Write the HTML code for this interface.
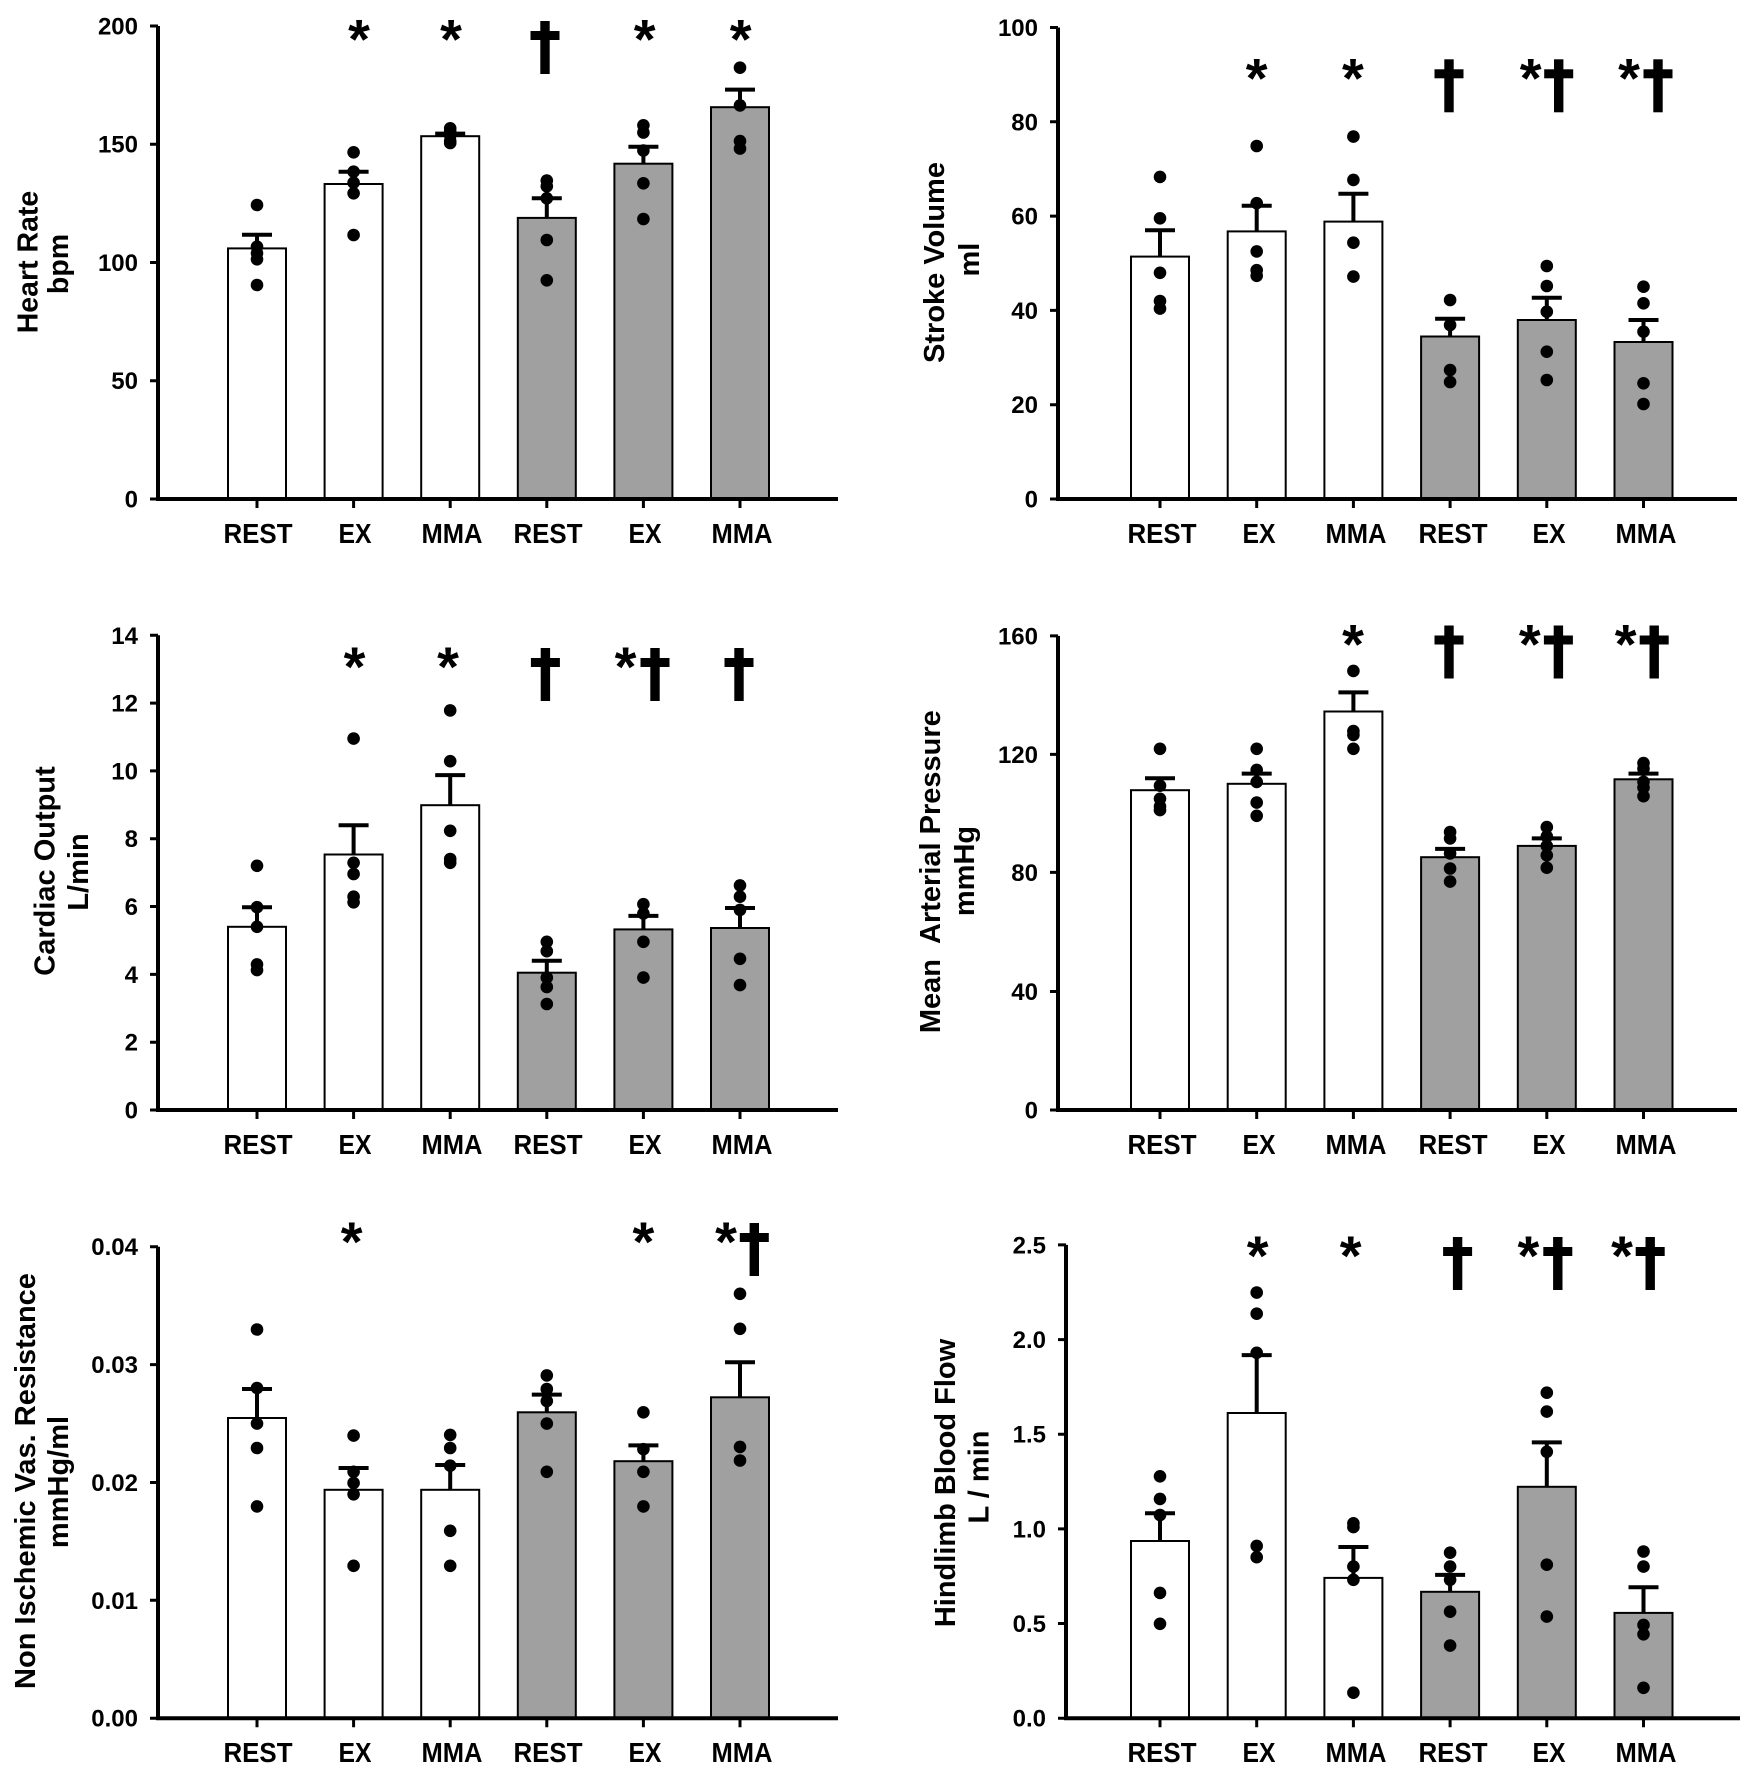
<!DOCTYPE html>
<html><head><meta charset="utf-8"><style>
html,body{margin:0;padding:0;background:#fff;}
svg{display:block;}
text{font-family:"Liberation Sans",Arial,sans-serif;font-weight:bold;fill:#000;}
.tl{font-size:24px;text-anchor:end;}
.xl{font-size:28px;text-anchor:middle;}
.yl{font-size:29px;text-anchor:middle;}
.ast{font-size:56px;text-anchor:middle;}
</style></head><body>
<svg width="1756" height="1769" viewBox="0 0 1756 1769" xmlns="http://www.w3.org/2000/svg">
<rect width="1756" height="1769" fill="#fff"/>

<!-- ================= BARS ================= -->
<g stroke="#000" stroke-width="2">
<!-- P1 -->
<rect x="228" y="248.4" width="58" height="250.6" fill="#fff"/>
<rect x="324.6" y="184" width="58" height="315" fill="#fff"/>
<rect x="421.2" y="136.2" width="58" height="362.8" fill="#fff"/>
<rect x="517.8" y="217.9" width="58" height="281.1" fill="#a0a0a0"/>
<rect x="614.4" y="163.7" width="58" height="335.3" fill="#a0a0a0"/>
<rect x="711" y="107.2" width="58" height="391.8" fill="#a0a0a0"/>
<!-- P2 -->
<rect x="1131" y="256.6" width="58" height="242.4" fill="#fff"/>
<rect x="1227.7" y="231.4" width="58" height="267.6" fill="#fff"/>
<rect x="1324.4" y="221.6" width="58" height="277.4" fill="#fff"/>
<rect x="1421.1" y="336.5" width="58" height="162.5" fill="#a0a0a0"/>
<rect x="1517.8" y="320" width="58" height="179" fill="#a0a0a0"/>
<rect x="1614.5" y="342" width="58" height="157" fill="#a0a0a0"/>
<!-- P3 -->
<rect x="228" y="926.8" width="58" height="183.2" fill="#fff"/>
<rect x="324.6" y="854.5" width="58" height="255.5" fill="#fff"/>
<rect x="421.2" y="805.2" width="58" height="304.8" fill="#fff"/>
<rect x="517.8" y="972.7" width="58" height="137.3" fill="#a0a0a0"/>
<rect x="614.4" y="929.4" width="58" height="180.6" fill="#a0a0a0"/>
<rect x="711" y="928" width="58" height="182" fill="#a0a0a0"/>
<!-- P4 -->
<rect x="1131" y="790.2" width="58" height="319.8" fill="#fff"/>
<rect x="1227.7" y="783.8" width="58" height="326.2" fill="#fff"/>
<rect x="1324.4" y="711.5" width="58" height="398.5" fill="#fff"/>
<rect x="1421.1" y="857.2" width="58" height="252.8" fill="#a0a0a0"/>
<rect x="1517.8" y="845.9" width="58" height="264.1" fill="#a0a0a0"/>
<rect x="1614.5" y="779.3" width="58" height="330.7" fill="#a0a0a0"/>
<!-- P5 -->
<rect x="228" y="1418" width="58" height="300.2" fill="#fff"/>
<rect x="324.6" y="1489.8" width="58" height="228.4" fill="#fff"/>
<rect x="421.2" y="1489.8" width="58" height="228.4" fill="#fff"/>
<rect x="517.8" y="1412.3" width="58" height="305.9" fill="#a0a0a0"/>
<rect x="614.4" y="1461.2" width="58" height="257" fill="#a0a0a0"/>
<rect x="711" y="1397.3" width="58" height="320.9" fill="#a0a0a0"/>
<!-- P6 -->
<rect x="1131" y="1541" width="58" height="177.2" fill="#fff"/>
<rect x="1227.7" y="1413" width="58" height="305.2" fill="#fff"/>
<rect x="1324.4" y="1577.9" width="58" height="140.3" fill="#fff"/>
<rect x="1421.1" y="1591.8" width="58" height="126.4" fill="#a0a0a0"/>
<rect x="1517.8" y="1486.8" width="58" height="231.4" fill="#a0a0a0"/>
<rect x="1614.5" y="1612.9" width="58" height="105.3" fill="#a0a0a0"/>
</g>

<!-- ================= ERROR BARS ================= -->
<g stroke="#000" stroke-width="4" fill="none">
<!-- P1 -->
<path d="M257 248.4V234.8M242 234.8H272"/>
<path d="M353.6 184V171.7M338.6 171.7H368.6"/>
<path d="M450.2 136.2V133.6M435.2 133.6H465.2"/>
<path d="M546.8 217.9V198.3M531.8 198.3H561.8"/>
<path d="M643.4 163.7V146.8M628.4 146.8H658.4"/>
<path d="M740 107.2V89.6M725 89.6H755"/>
<!-- P2 -->
<path d="M1160 256.6V230.3M1145 230.3H1175"/>
<path d="M1256.7 231.4V205.8M1241.7 205.8H1271.7"/>
<path d="M1353.4 221.6V193.8M1338.4 193.8H1368.4"/>
<path d="M1450.1 336.5V318.7M1435.1 318.7H1465.1"/>
<path d="M1546.8 320V297.7M1531.8 297.7H1561.8"/>
<path d="M1643.5 342V320M1628.5 320H1658.5"/>
<!-- P3 -->
<path d="M257 926.8V907.2M242 907.2H272"/>
<path d="M353.6 854.5V825.2M338.6 825.2H368.6"/>
<path d="M450.2 805.2V775.1M435.2 775.1H465.2"/>
<path d="M546.8 972.7V960.7M531.8 960.7H561.8"/>
<path d="M643.4 929.4V915.9M628.4 915.9H658.4"/>
<path d="M740 928V908M725 908H755"/>
<!-- P4 -->
<path d="M1160 790.2V778.2M1145 778.2H1175"/>
<path d="M1256.7 783.8V773.6M1241.7 773.6H1271.7"/>
<path d="M1353.4 711.5V692.4M1338.4 692.4H1368.4"/>
<path d="M1450.1 857.2V848.9M1435.1 848.9H1465.1"/>
<path d="M1546.8 845.9V838.4M1531.8 838.4H1561.8"/>
<path d="M1643.5 779.3V773.6M1628.5 773.6H1658.5"/>
<!-- P5 -->
<path d="M257 1418V1389M242 1389H272"/>
<path d="M353.6 1489.8V1468M338.6 1468H368.6"/>
<path d="M450.2 1489.8V1465M435.2 1465H465.2"/>
<path d="M546.8 1412.3V1394.6M531.8 1394.6H561.8"/>
<path d="M643.4 1461.2V1445.4M628.4 1445.4H658.4"/>
<path d="M740 1397.3V1362.3M725 1362.3H755"/>
<!-- P6 -->
<path d="M1160 1541V1513.2M1145 1513.2H1175"/>
<path d="M1256.7 1413V1355.1M1241.7 1355.1H1271.7"/>
<path d="M1353.4 1577.9V1547M1338.4 1547H1368.4"/>
<path d="M1450.1 1591.8V1574.9M1435.1 1574.9H1465.1"/>
<path d="M1546.8 1486.8V1442.4M1531.8 1442.4H1561.8"/>
<path d="M1643.5 1612.9V1587.3M1628.5 1587.3H1658.5"/>
</g>

<!-- ================= DOTS ================= -->
<g fill="#000">
<!-- P1 -->
<circle cx="257" cy="205" r="6.3"/><circle cx="257" cy="246.7" r="6.3"/><circle cx="257" cy="253.3" r="6.3"/><circle cx="257" cy="259.3" r="6.3"/><circle cx="257" cy="285" r="6.3"/>
<circle cx="353.6" cy="152.3" r="6.3"/><circle cx="353.6" cy="171.7" r="6.3"/><circle cx="353.6" cy="182.7" r="6.3"/><circle cx="353.6" cy="193.3" r="6.3"/><circle cx="353.6" cy="235" r="6.3"/>
<circle cx="450.2" cy="128.3" r="6.3"/><circle cx="450.2" cy="131.7" r="6.3"/><circle cx="450.2" cy="135.5" r="6.3"/><circle cx="450.2" cy="141" r="6.3"/><circle cx="450.2" cy="143" r="6.3"/>
<circle cx="546.8" cy="180.6" r="6.3"/><circle cx="546.8" cy="186.3" r="6.3"/><circle cx="546.8" cy="198.3" r="6.3"/><circle cx="546.8" cy="240" r="6.3"/><circle cx="546.8" cy="280.3" r="6.3"/>
<circle cx="643.4" cy="125.3" r="6.3"/><circle cx="643.4" cy="132.5" r="6.3"/><circle cx="643.4" cy="150.5" r="6.3"/><circle cx="643.4" cy="183.3" r="6.3"/><circle cx="643.4" cy="219" r="6.3"/>
<circle cx="740" cy="67.7" r="6.3"/><circle cx="740" cy="105.4" r="6.3"/><circle cx="740" cy="141.1" r="6.3"/><circle cx="740" cy="148.6" r="6.3"/>
<!-- P2 -->
<circle cx="1160" cy="176.9" r="6.3"/><circle cx="1160" cy="218.3" r="6.3"/><circle cx="1160" cy="272.8" r="6.3"/><circle cx="1160" cy="301" r="6.3"/><circle cx="1160" cy="308.6" r="6.3"/>
<circle cx="1256.7" cy="146" r="6.3"/><circle cx="1256.7" cy="203.2" r="6.3"/><circle cx="1256.7" cy="251.4" r="6.3"/><circle cx="1256.7" cy="270.2" r="6.3"/><circle cx="1256.7" cy="275.8" r="6.3"/>
<circle cx="1353.4" cy="136.6" r="6.3"/><circle cx="1353.4" cy="179.9" r="6.3"/><circle cx="1353.4" cy="242.7" r="6.3"/><circle cx="1353.4" cy="276.6" r="6.3"/>
<circle cx="1450.1" cy="300" r="6.3"/><circle cx="1450.1" cy="325" r="6.3"/><circle cx="1450.1" cy="370" r="6.3"/><circle cx="1450.1" cy="382" r="6.3"/>
<circle cx="1546.8" cy="266" r="6.3"/><circle cx="1546.8" cy="286" r="6.3"/><circle cx="1546.8" cy="311.7" r="6.3"/><circle cx="1546.8" cy="351.7" r="6.3"/><circle cx="1546.8" cy="380" r="6.3"/>
<circle cx="1643.5" cy="286.7" r="6.3"/><circle cx="1643.5" cy="303.3" r="6.3"/><circle cx="1643.5" cy="331.7" r="6.3"/><circle cx="1643.5" cy="383.3" r="6.3"/><circle cx="1643.5" cy="404" r="6.3"/>
<!-- P3 -->
<circle cx="257" cy="865.8" r="6.3"/><circle cx="257" cy="907.2" r="6.3"/><circle cx="257" cy="926.8" r="6.3"/><circle cx="257" cy="964.4" r="6.3"/><circle cx="257" cy="970.1" r="6.3"/>
<circle cx="353.6" cy="738.6" r="6.3"/><circle cx="353.6" cy="862.8" r="6.3"/><circle cx="353.6" cy="874" r="6.3"/><circle cx="353.6" cy="896.7" r="6.3"/><circle cx="353.6" cy="902.3" r="6.3"/>
<circle cx="450.2" cy="710.4" r="6.3"/><circle cx="450.2" cy="761.2" r="6.3"/><circle cx="450.2" cy="830.8" r="6.3"/><circle cx="450.2" cy="859" r="6.3"/><circle cx="450.2" cy="862.8" r="6.3"/>
<circle cx="546.8" cy="941.8" r="6.3"/><circle cx="546.8" cy="951.2" r="6.3"/><circle cx="546.8" cy="977.6" r="6.3"/><circle cx="546.8" cy="987" r="6.3"/><circle cx="546.8" cy="1004" r="6.3"/>
<circle cx="643.4" cy="904.2" r="6.3"/><circle cx="643.4" cy="913.6" r="6.3"/><circle cx="643.4" cy="941.8" r="6.3"/><circle cx="643.4" cy="977.6" r="6.3"/>
<circle cx="740" cy="885.4" r="6.3"/><circle cx="740" cy="896.7" r="6.3"/><circle cx="740" cy="909.9" r="6.3"/><circle cx="740" cy="958.8" r="6.3"/><circle cx="740" cy="985.1" r="6.3"/>
<!-- P4 -->
<circle cx="1160" cy="748.8" r="6.3"/><circle cx="1160" cy="785.7" r="6.3"/><circle cx="1160" cy="798.8" r="6.3"/><circle cx="1160" cy="806.4" r="6.3"/><circle cx="1160" cy="810.1" r="6.3"/>
<circle cx="1256.7" cy="748.8" r="6.3"/><circle cx="1256.7" cy="769.9" r="6.3"/><circle cx="1256.7" cy="781.9" r="6.3"/><circle cx="1256.7" cy="802.6" r="6.3"/><circle cx="1256.7" cy="815.8" r="6.3"/>
<circle cx="1353.4" cy="670.9" r="6.3"/><circle cx="1353.4" cy="731.1" r="6.3"/><circle cx="1353.4" cy="734.9" r="6.3"/><circle cx="1353.4" cy="748.8" r="6.3"/>
<circle cx="1450.1" cy="832" r="6.3"/><circle cx="1450.1" cy="838.4" r="6.3"/><circle cx="1450.1" cy="853.4" r="6.3"/><circle cx="1450.1" cy="868.5" r="6.3"/><circle cx="1450.1" cy="881.6" r="6.3"/>
<circle cx="1546.8" cy="827.1" r="6.3"/><circle cx="1546.8" cy="836.5" r="6.3"/><circle cx="1546.8" cy="845.9" r="6.3"/><circle cx="1546.8" cy="855.3" r="6.3"/><circle cx="1546.8" cy="867.7" r="6.3"/>
<circle cx="1643.5" cy="763.1" r="6.3"/><circle cx="1643.5" cy="768.7" r="6.3"/><circle cx="1643.5" cy="781.9" r="6.3"/><circle cx="1643.5" cy="787.6" r="6.3"/><circle cx="1643.5" cy="796.2" r="6.3"/>
<!-- P5 -->
<circle cx="257" cy="1329.5" r="6.3"/><circle cx="257" cy="1388" r="6.3"/><circle cx="257" cy="1423.6" r="6.3"/><circle cx="257" cy="1448" r="6.3"/><circle cx="257" cy="1506.4" r="6.3"/>
<circle cx="353.6" cy="1435.6" r="6.3"/><circle cx="353.6" cy="1471.8" r="6.3"/><circle cx="353.6" cy="1483" r="6.3"/><circle cx="353.6" cy="1494.3" r="6.3"/><circle cx="353.6" cy="1565.8" r="6.3"/>
<circle cx="450.2" cy="1434.9" r="6.3"/><circle cx="450.2" cy="1448" r="6.3"/><circle cx="450.2" cy="1465.7" r="6.3"/><circle cx="450.2" cy="1530.8" r="6.3"/><circle cx="450.2" cy="1565.8" r="6.3"/>
<circle cx="546.8" cy="1375.4" r="6.3"/><circle cx="546.8" cy="1389" r="6.3"/><circle cx="546.8" cy="1401" r="6.3"/><circle cx="546.8" cy="1423.6" r="6.3"/><circle cx="546.8" cy="1471.8" r="6.3"/>
<circle cx="643.4" cy="1412.3" r="6.3"/><circle cx="643.4" cy="1449.2" r="6.3"/><circle cx="643.4" cy="1471.8" r="6.3"/><circle cx="643.4" cy="1506.4" r="6.3"/>
<circle cx="740" cy="1293.8" r="6.3"/><circle cx="740" cy="1328.8" r="6.3"/><circle cx="740" cy="1446.9" r="6.3"/><circle cx="740" cy="1460.5" r="6.3"/>
<!-- P6 -->
<circle cx="1160" cy="1476.3" r="6.3"/><circle cx="1160" cy="1498.9" r="6.3"/><circle cx="1160" cy="1515" r="6.3"/><circle cx="1160" cy="1592.9" r="6.3"/><circle cx="1160" cy="1623.8" r="6.3"/>
<circle cx="1256.7" cy="1292.6" r="6.3"/><circle cx="1256.7" cy="1313.7" r="6.3"/><circle cx="1256.7" cy="1352.8" r="6.3"/><circle cx="1256.7" cy="1545.9" r="6.3"/><circle cx="1256.7" cy="1557.2" r="6.3"/>
<circle cx="1353.4" cy="1523.3" r="6.3"/><circle cx="1353.4" cy="1527.1" r="6.3"/><circle cx="1353.4" cy="1566.6" r="6.3"/><circle cx="1353.4" cy="1579.8" r="6.3"/><circle cx="1353.4" cy="1692.7" r="6.3"/>
<circle cx="1450.1" cy="1552.7" r="6.3"/><circle cx="1450.1" cy="1566.6" r="6.3"/><circle cx="1450.1" cy="1579.8" r="6.3"/><circle cx="1450.1" cy="1611.7" r="6.3"/><circle cx="1450.1" cy="1645.6" r="6.3"/>
<circle cx="1546.8" cy="1392.7" r="6.3"/><circle cx="1546.8" cy="1411.6" r="6.3"/><circle cx="1546.8" cy="1451.8" r="6.3"/><circle cx="1546.8" cy="1564.7" r="6.3"/><circle cx="1546.8" cy="1616.6" r="6.3"/>
<circle cx="1643.5" cy="1551.5" r="6.3"/><circle cx="1643.5" cy="1566.6" r="6.3"/><circle cx="1643.5" cy="1624.9" r="6.3"/><circle cx="1643.5" cy="1634.3" r="6.3"/><circle cx="1643.5" cy="1687.8" r="6.3"/>
</g>

<!-- ================= AXES ================= -->
<g stroke="#000" fill="none">
<path stroke-width="4" d="M158 26V499M1058 27.5V499M158 635.3V1110M1058 635.9V1110M158 1246.7V1718.2M1066 1244.9V1718.2"/>
<path stroke-width="4" d="M156 499H838M1056 499H1737M156 1110H838M1056 1110H1737M156 1718.2H838M1064 1718.2H1740"/>
<path stroke-width="3" d="M150 499H158M150 380.75H158M150 262.5H158M150 144.25H158M150 26H158"/>
<path stroke-width="3" d="M1050 499H1058M1050 404.7H1058M1050 310.4H1058M1050 216.1H1058M1050 121.8H1058M1050 27.5H1058"/>
<path stroke-width="3" d="M150 1110H158M150 1042.2H158M150 974.4H158M150 906.5H158M150 838.7H158M150 770.9H158M150 703.1H158M150 635.3H158"/>
<path stroke-width="3" d="M1050 1110H1058M1050 991.5H1058M1050 872.4H1058M1050 754.4H1058M1050 635.9H1058"/>
<path stroke-width="3" d="M150 1718.2H158M150 1600.3H158M150 1482.5H158M150 1364.6H158M150 1246.7H158"/>
<path stroke-width="3" d="M1058 1718.2H1066M1058 1623.5H1066M1058 1528.9H1066M1058 1434.2H1066M1058 1339.6H1066M1058 1244.9H1066"/>
<path stroke-width="3" d="M257 499v9M353.6 499v9M450.2 499v9M546.8 499v9M643.4 499v9M740 499v9"/>
<path stroke-width="3" d="M1160 499v9M1256.7 499v9M1353.4 499v9M1450.1 499v9M1546.8 499v9M1643.5 499v9"/>
<path stroke-width="3" d="M257 1110v9M353.6 1110v9M450.2 1110v9M546.8 1110v9M643.4 1110v9M740 1110v9"/>
<path stroke-width="3" d="M1160 1110v9M1256.7 1110v9M1353.4 1110v9M1450.1 1110v9M1546.8 1110v9M1643.5 1110v9"/>
<path stroke-width="3" d="M257 1718.2v9M353.6 1718.2v9M450.2 1718.2v9M546.8 1718.2v9M643.4 1718.2v9M740 1718.2v9"/>
<path stroke-width="3" d="M1160 1718.2v9M1256.7 1718.2v9M1353.4 1718.2v9M1450.1 1718.2v9M1546.8 1718.2v9M1643.5 1718.2v9"/>
</g>

<!-- ================= TICK LABELS ================= -->
<g class="tl">
<text class="tl" x="138" y="507.5">0</text><text class="tl" x="138" y="389.2">50</text><text class="tl" x="138" y="271">100</text><text class="tl" x="138" y="152.7">150</text><text class="tl" x="138" y="34.5">200</text>
<text class="tl" x="1038" y="507.5">0</text><text class="tl" x="1038" y="413.2">20</text><text class="tl" x="1038" y="318.9">40</text><text class="tl" x="1038" y="224.6">60</text><text class="tl" x="1038" y="130.3">80</text><text class="tl" x="1038" y="36">100</text>
<text class="tl" x="138" y="1118.5">0</text><text class="tl" x="138" y="1050.7">2</text><text class="tl" x="138" y="982.9">4</text><text class="tl" x="138" y="915">6</text><text class="tl" x="138" y="847.2">8</text><text class="tl" x="138" y="779.4">10</text><text class="tl" x="138" y="711.6">12</text><text class="tl" x="138" y="643.8">14</text>
<text class="tl" x="1038" y="1118.5">0</text><text class="tl" x="1038" y="1000">40</text><text class="tl" x="1038" y="880.9">80</text><text class="tl" x="1038" y="762.9">120</text><text class="tl" x="1038" y="644.4">160</text>
<text class="tl" x="138" y="1726.7">0.00</text><text class="tl" x="138" y="1608.8">0.01</text><text class="tl" x="138" y="1491">0.02</text><text class="tl" x="138" y="1373.1">0.03</text><text class="tl" x="138" y="1255.2">0.04</text>
<text class="tl" x="1046" y="1726.7">0.0</text><text class="tl" x="1046" y="1632">0.5</text><text class="tl" x="1046" y="1537.4">1.0</text><text class="tl" x="1046" y="1442.7">1.5</text><text class="tl" x="1046" y="1348.1">2.0</text><text class="tl" x="1046" y="1253.4">2.5</text>
</g>

<!-- ================= X LABELS ================= -->
<g>
<text class="xl" x="258" y="543" textLength="69" lengthAdjust="spacingAndGlyphs">REST</text>
<text class="xl" x="355" y="543" textLength="33" lengthAdjust="spacingAndGlyphs">EX</text>
<text class="xl" x="452" y="543" textLength="61" lengthAdjust="spacingAndGlyphs">MMA</text>
<text class="xl" x="548" y="543" textLength="69" lengthAdjust="spacingAndGlyphs">REST</text>
<text class="xl" x="645" y="543" textLength="33" lengthAdjust="spacingAndGlyphs">EX</text>
<text class="xl" x="742" y="543" textLength="61" lengthAdjust="spacingAndGlyphs">MMA</text>
<text class="xl" x="1162" y="543" textLength="69" lengthAdjust="spacingAndGlyphs">REST</text>
<text class="xl" x="1259" y="543" textLength="33" lengthAdjust="spacingAndGlyphs">EX</text>
<text class="xl" x="1356" y="543" textLength="61" lengthAdjust="spacingAndGlyphs">MMA</text>
<text class="xl" x="1453" y="543" textLength="69" lengthAdjust="spacingAndGlyphs">REST</text>
<text class="xl" x="1549" y="543" textLength="33" lengthAdjust="spacingAndGlyphs">EX</text>
<text class="xl" x="1646" y="543" textLength="61" lengthAdjust="spacingAndGlyphs">MMA</text>

<text class="xl" x="258" y="1154" textLength="69" lengthAdjust="spacingAndGlyphs">REST</text>
<text class="xl" x="355" y="1154" textLength="33" lengthAdjust="spacingAndGlyphs">EX</text>
<text class="xl" x="452" y="1154" textLength="61" lengthAdjust="spacingAndGlyphs">MMA</text>
<text class="xl" x="548" y="1154" textLength="69" lengthAdjust="spacingAndGlyphs">REST</text>
<text class="xl" x="645" y="1154" textLength="33" lengthAdjust="spacingAndGlyphs">EX</text>
<text class="xl" x="742" y="1154" textLength="61" lengthAdjust="spacingAndGlyphs">MMA</text>
<text class="xl" x="1162" y="1154" textLength="69" lengthAdjust="spacingAndGlyphs">REST</text>
<text class="xl" x="1259" y="1154" textLength="33" lengthAdjust="spacingAndGlyphs">EX</text>
<text class="xl" x="1356" y="1154" textLength="61" lengthAdjust="spacingAndGlyphs">MMA</text>
<text class="xl" x="1453" y="1154" textLength="69" lengthAdjust="spacingAndGlyphs">REST</text>
<text class="xl" x="1549" y="1154" textLength="33" lengthAdjust="spacingAndGlyphs">EX</text>
<text class="xl" x="1646" y="1154" textLength="61" lengthAdjust="spacingAndGlyphs">MMA</text>

<text class="xl" x="258" y="1762" textLength="69" lengthAdjust="spacingAndGlyphs">REST</text>
<text class="xl" x="355" y="1762" textLength="33" lengthAdjust="spacingAndGlyphs">EX</text>
<text class="xl" x="452" y="1762" textLength="61" lengthAdjust="spacingAndGlyphs">MMA</text>
<text class="xl" x="548" y="1762" textLength="69" lengthAdjust="spacingAndGlyphs">REST</text>
<text class="xl" x="645" y="1762" textLength="33" lengthAdjust="spacingAndGlyphs">EX</text>
<text class="xl" x="742" y="1762" textLength="61" lengthAdjust="spacingAndGlyphs">MMA</text>
<text class="xl" x="1162" y="1762" textLength="69" lengthAdjust="spacingAndGlyphs">REST</text>
<text class="xl" x="1259" y="1762" textLength="33" lengthAdjust="spacingAndGlyphs">EX</text>
<text class="xl" x="1356" y="1762" textLength="61" lengthAdjust="spacingAndGlyphs">MMA</text>
<text class="xl" x="1453" y="1762" textLength="69" lengthAdjust="spacingAndGlyphs">REST</text>
<text class="xl" x="1549" y="1762" textLength="33" lengthAdjust="spacingAndGlyphs">EX</text>
<text class="xl" x="1646" y="1762" textLength="61" lengthAdjust="spacingAndGlyphs">MMA</text>
</g>

<!-- ================= Y AXIS TITLES ================= -->
<text class="yl" style="font-size:28.5px" transform="translate(37.5,262) rotate(-90)">Heart Rate</text>
<text class="yl" style="font-size:28.5px" transform="translate(68,264) rotate(-90)">bpm</text>
<text class="yl" transform="translate(944,262.5) rotate(-90)">Stroke Volume</text>
<text class="yl" transform="translate(978.8,259.6) rotate(-90)">ml</text>
<text class="yl" transform="translate(54.4,871) rotate(-90)">Cardiac Output</text>
<text class="yl" transform="translate(88,872) rotate(-90)">L/min</text>
<text class="yl" transform="translate(940,871.7) rotate(-90)">Mean&#160; Arterial Pressure</text>
<text class="yl" transform="translate(974,871) rotate(-90)">mmHg</text>
<text class="yl" transform="translate(35,1481) rotate(-90)">Non Ischemic Vas. Resistance</text>
<text class="yl" transform="translate(68,1482) rotate(-90)">mmHg/ml</text>
<text class="yl" transform="translate(955,1483) rotate(-90)">Hindlimb Blood Flow</text>
<text class="yl" transform="translate(988.5,1477) rotate(-90)">L / min</text>

<!-- ================= ASTERISKS ================= -->
<g>
<text class="ast" x="359" y="58.5">*</text><text class="ast" x="451" y="58.5">*</text><text class="ast" x="644.6" y="58.5">*</text><text class="ast" x="740.6" y="58.5">*</text>
<text class="ast" x="1256.6" y="97.3">*</text><text class="ast" x="1352.9" y="97.3">*</text><text class="ast" x="1530.7" y="97.3">*</text><text class="ast" x="1629" y="97.3">*</text>
<text class="ast" x="354.5" y="686">*</text><text class="ast" x="448" y="686">*</text><text class="ast" x="625.5" y="686">*</text>
<text class="ast" x="1353" y="663.5">*</text><text class="ast" x="1529.8" y="663.5">*</text><text class="ast" x="1625.6" y="663.5">*</text>
<text class="ast" x="351.7" y="1261.2">*</text><text class="ast" x="643.4" y="1261.2">*</text><text class="ast" x="726" y="1261.2">*</text>
<text class="ast" x="1257.7" y="1275">*</text><text class="ast" x="1350.6" y="1275">*</text><text class="ast" x="1528.4" y="1275">*</text><text class="ast" x="1622" y="1275">*</text>
</g>

<!-- ================= DAGGERS ================= -->
<g fill="#000">
<rect x="540.3" y="21" width="9.4" height="53"/><rect x="530.5" y="31" width="29" height="9"/>
<rect x="1444.3" y="59.3" width="9.4" height="53"/><rect x="1434.5" y="69.3" width="29" height="9"/>
<rect x="1554" y="59.3" width="9.4" height="53"/><rect x="1544.2" y="69.3" width="29" height="9"/>
<rect x="1653.3" y="59.3" width="9.4" height="53"/><rect x="1643.5" y="69.3" width="29" height="9"/>
<rect x="540.7" y="648" width="9.4" height="53"/><rect x="530.9" y="658" width="29" height="9"/>
<rect x="650.3" y="648" width="9.4" height="53"/><rect x="640.5" y="658" width="29" height="9"/>
<rect x="734.3" y="648" width="9.4" height="53"/><rect x="724.5" y="658" width="29" height="9"/>
<rect x="1444.3" y="625.5" width="9.4" height="53"/><rect x="1434.5" y="635.5" width="29" height="9"/>
<rect x="1553.7" y="625.5" width="9.4" height="53"/><rect x="1543.9" y="635.5" width="29" height="9"/>
<rect x="1649.5" y="625.5" width="9.4" height="53"/><rect x="1639.7" y="635.5" width="29" height="9"/>
<rect x="749.6" y="1223" width="9.4" height="53"/><rect x="739.8" y="1233" width="29" height="9"/>
<rect x="1452.9" y="1237" width="9.4" height="53"/><rect x="1443.1" y="1247" width="29" height="9"/>
<rect x="1553.1" y="1237" width="9.4" height="53"/><rect x="1543.3" y="1247" width="29" height="9"/>
<rect x="1645.5" y="1237" width="9.4" height="53"/><rect x="1635.7" y="1247" width="29" height="9"/>
</g>
</svg>
</body></html>
